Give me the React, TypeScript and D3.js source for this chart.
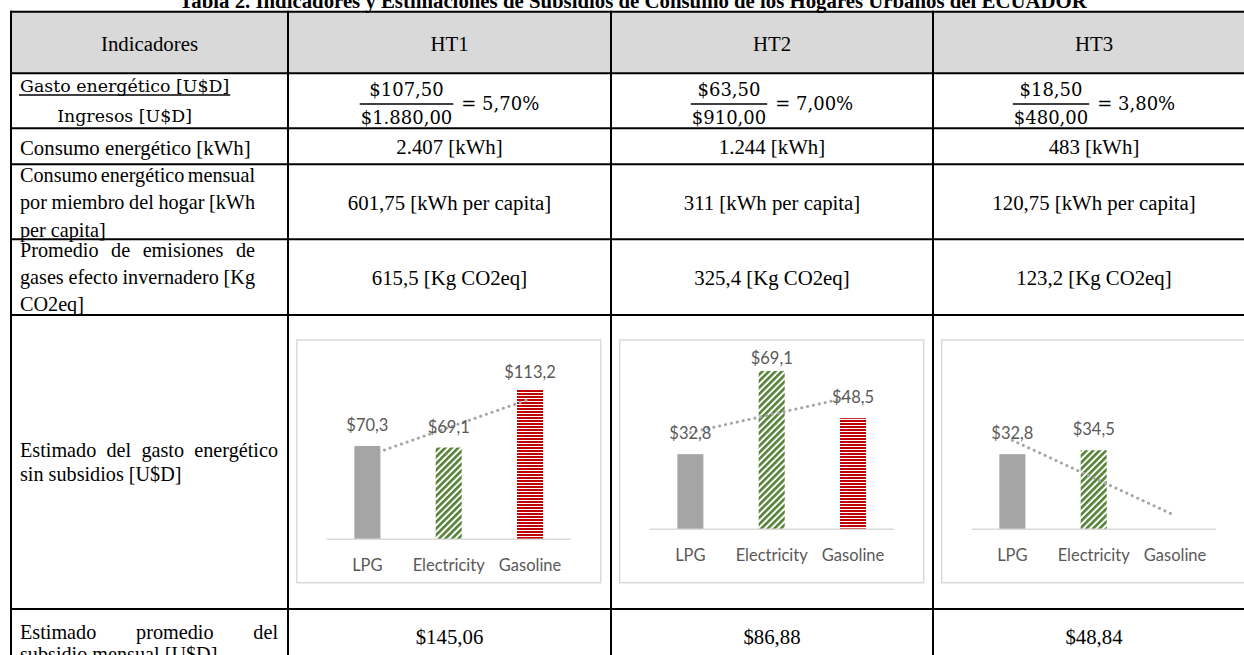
import React, { useEffect, useRef } from "react";
import * as d3 from "d3";

// table content
const title = "Tabla 2. Indicadores y Estimaciones de Subsidios de Consumo de los Hogares Urbanos del ECUADOR";
const households = ["HT1", "HT2", "HT3"];
const fuels = ["LPG", "Electricity", "Gasoline"];
const gastoEnergetico = ["$107,50", "$63,50", "$18,50"];
const ingresos = ["$1.880,00", "$910,00", "$480,00"];
const gastoRatio = ["5,70%", "7,00%", "3,80%"];
const consumo = ["2.407 [kWh]", "1.244 [kWh]", "483 [kWh]"];
const consumoPerCapita = ["601,75 [kWh per capita]", "311 [kWh per capita]", "120,75 [kWh per capita]"];
const emisiones = ["615,5 [Kg CO2eq]", "325,4 [Kg CO2eq]", "123,2 [Kg CO2eq]"];
const subsidio = ["$145,06", "$86,88", "$48,84"];

// mini bar charts (one per household type)
const lpgCost = [70.3, 32.8, 32.8];
const electricityCost = [69.1, 69.1, 34.5];
const gasolineCost = [113.2, 48.5, 0];
const axisMax = [135, 80, 80];

const W = 1244;
const H = 655;
const colX = [11, 288, 611, 933, 1255];
const rowY = [11.7, 73.3, 128.3, 164.3, 239.3, 315, 609, 700];
const SERIF = "'Liberation Serif', 'Times New Roman', serif";
const MATH = "'DejaVu Serif', serif";
const SANS = "Lato, 'Open Sans', sans-serif";
const FS = 20.2;

function txt(g, s, x, y, opts: any = {}) {
  return g
    .append("text")
    .attr("x", x)
    .attr("y", y)
    .attr("font-family", opts.font || SERIF)
    .attr("font-size", opts.size || FS)
    .attr("font-weight", opts.weight || "normal")
    .attr("text-anchor", opts.anchor || "start")
    .attr("fill", opts.fill || "#000")
    .text(s);
}

// justified line: words spread between x0 and x1
function justify(g, s, x0, x1, y) {
  const words = s.split(" ");
  const nodes = words.map((w) => txt(g, w, 0, y));
  const widths = nodes.map((n) => n.node().getComputedTextLength());
  const gap = Math.max(3, (x1 - x0 - d3.sum(widths)) / (words.length - 1));
  let x = x0;
  nodes.forEach((n, i) => {
    n.attr("x", x);
    x += widths[i] + gap;
  });
}

function fraction(g, num, den, x0, yNum, yBar, yDen, eq) {
  const a = txt(g, num, 0, yNum, { font: MATH, size: 18, anchor: "middle" });
  const b = txt(g, den, 0, yDen, { font: MATH, size: 18, anchor: "middle" });
  const fw = Math.max(a.node().getComputedTextLength(), b.node().getComputedTextLength()) + 2;
  const e = txt(g, eq, 0, yBar + 6, { font: MATH, size: 18 });
  const ew = e.node().getComputedTextLength();
  const start = x0 - (fw + 8 + ew) / 2;
  e.attr("x", start + fw + 8);
  a.attr("x", start + fw / 2);
  b.attr("x", start + fw / 2);
  g.append("line")
    .attr("x1", start)
    .attr("x2", start + fw)
    .attr("y1", yBar)
    .attr("y2", yBar)
    .attr("stroke", "#000")
    .attr("stroke-width", 1.3);
}

function drawChart(g, i) {
  const boxX = colX[i + 1] + 8.7;
  const boxY = 340;
  const values = [lpgCost[i], electricityCost[i], gasolineCost[i]];
  const fills = ["#a5a5a5", "url(#elecPat)", "url(#gasPat)"];
  const baseY = boxY + (i === 0 ? 199.3 : 189.3);
  const topY = boxY + (i === 0 ? 20 : 6);

  g.append("rect")
    .attr("x", boxX)
    .attr("y", boxY)
    .attr("width", 304)
    .attr("height", 242.7)
    .attr("fill", "#fff")
    .attr("stroke", "#d9d9d9")
    .attr("stroke-width", 1.5);

  const x = d3
    .scaleBand()
    .domain(fuels)
    .range([boxX + 30, boxX + 274])
    .paddingInner(0.68)
    .paddingOuter(0.34);
  const y = d3.scaleLinear().domain([0, axisMax[i]]).range([baseY, topY]);

  g.append("g")
    .selectAll("rect")
    .data(values)
    .enter()
    .append("rect")
    .attr("x", (d, j) => x(fuels[j]))
    .attr("y", (d) => y(d))
    .attr("width", x.bandwidth())
    .attr("height", (d) => baseY - y(d))
    .attr("fill", (d, j) => fills[j]);

  g.append("line")
    .attr("x1", boxX + 30)
    .attr("x2", boxX + 274)
    .attr("y1", baseY)
    .attr("y2", baseY)
    .attr("stroke", "#d9d9d9")
    .attr("stroke-width", 1.5);

  fuels.forEach((f) => {
    txt(g, f, x(f) + x.bandwidth() / 2, baseY + 31.7, { font: SANS, size: 16.5, anchor: "middle", fill: "#595959" });
  });

  // linear trendline over the three categories
  const n = values.length;
  const xs = d3.range(1, n + 1);
  const mx = d3.mean(xs);
  const my = d3.mean(values);
  const slope = d3.sum(xs, (v, k) => (v - mx) * (values[k] - my)) / d3.sum(xs, (v) => (v - mx) * (v - mx));
  const trend = (k) => my + slope * (k - mx);
  const line = d3
    .line()
    .x((d) => x(fuels[d - 1]) + x.bandwidth() / 2)
    .y((d) => y(trend(d)));
  g.append("path")
    .attr("d", line([1, n]))
    .attr("fill", "none")
    .attr("stroke", "#a5a5a5")
    .attr("stroke-width", 3)
    .attr("stroke-linecap", "round")
    .attr("stroke-dasharray", "0.1 5.9");

  values.forEach((v, j) => {
    if (!v) return;
    const ly = Math.max(y(v) - 15, topY + 18);
    txt(g, "$" + v.toFixed(1).replace(".", ","), x(fuels[j]) + x.bandwidth() / 2, ly, {
      font: SANS,
      size: 16.5,
      anchor: "middle",
      fill: "#595959",
    });
  });
}

export default function App() {
  const ref = useRef(null);

  useEffect(() => {
    const svg = d3.select(ref.current);
    svg.selectAll("*").remove();

    const defs = svg.append("defs");
    const elec = defs
      .append("pattern")
      .attr("id", "elecPat")
      .attr("patternUnits", "userSpaceOnUse")
      .attr("width", 4.6)
      .attr("height", 4.6)
      .attr("patternTransform", "rotate(45)");
    elec.append("rect").attr("width", 4.6).attr("height", 4.6).attr("fill", "#fff");
    elec.append("rect").attr("width", 2.6).attr("height", 4.6).attr("fill", "#548235");
    const gas = defs
      .append("pattern")
      .attr("id", "gasPat")
      .attr("patternUnits", "userSpaceOnUse")
      .attr("width", 4)
      .attr("height", 3);
    gas.append("rect").attr("width", 4).attr("height", 3).attr("fill", "#fff");
    gas.append("rect").attr("width", 4).attr("height", 2).attr("fill", "#c00000");

    const g = svg.append("g");

    // header background
    g.append("rect")
      .attr("x", colX[0])
      .attr("y", rowY[0])
      .attr("width", colX[4] - colX[0])
      .attr("height", rowY[1] - rowY[0])
      .attr("fill", "#d9d9d9");

    txt(g, title, (colX[0] + colX[4]) / 2, 8, { weight: "bold", anchor: "middle", size: 20.8 });

    // first column
    txt(g, "Indicadores", (colX[0] + colX[1]) / 2, 50.5, { anchor: "middle", size: 20.8 });
    const lf = g.append("g");
    const a = txt(lf, "Gasto energético [U$D]", 0, 91.5, { font: MATH, size: 17.4, anchor: "middle" });
    const b = txt(lf, "Ingresos [U$D]", 0, 122, { font: MATH, size: 17.4, anchor: "middle" });
    const fw = Math.max(a.node().getComputedTextLength(), b.node().getComputedTextLength()) + 2;
    a.attr("x", 19 + fw / 2);
    b.attr("x", 19 + fw / 2);
    lf.append("line").attr("x1", 19).attr("x2", 19 + fw).attr("y1", 95).attr("y2", 95).attr("stroke", "#000").attr("stroke-width", 1.3);

    txt(g, "Consumo energético [kWh]", 20, 154.5, { size: 20.8 });
    justify(g, "Consumo energético mensual", 20, 255, 182);
    justify(g, "por miembro del hogar [kWh", 20, 255, 209.3);
    txt(g, "per capita]", 20, 236.7);
    justify(g, "Promedio de emisiones de", 20, 255, 256.7);
    justify(g, "gases efecto invernadero [Kg", 20, 255, 284.3);
    txt(g, "CO2eq]", 20, 311);
    justify(g, "Estimado del gasto energético", 20, 278, 457);
    txt(g, "sin subsidios [U$D]", 20, 481);
    justify(g, "Estimado promedio del", 20, 278, 639);
    txt(g, "subsidio mensual [U$D]", 20, 661);

    // household columns
    households.forEach((h, i) => {
      const cx = (colX[i + 1] + colX[i + 2]) / 2;
      txt(g, h, cx, 50.5, { anchor: "middle", size: 20.8 });
      fraction(g, gastoEnergetico[i], ingresos[i], cx, 95.5, 104, 124, "= " + gastoRatio[i]);
      txt(g, consumo[i], cx, 154, { anchor: "middle", size: 20.8 });
      txt(g, consumoPerCapita[i], cx, 210, { anchor: "middle", size: 20.8 });
      txt(g, emisiones[i], cx, 284.5, { anchor: "middle", size: 20.8 });
      txt(g, subsidio[i], cx, 644, { anchor: "middle", size: 20.8 });
      drawChart(g, i);
    });

    // grid lines
    rowY.forEach((yy) => {
      g.append("line").attr("x1", colX[0] - 1).attr("x2", colX[4]).attr("y1", yy).attr("y2", yy).attr("stroke", "#000").attr("stroke-width", 2);
    });
    colX.forEach((xx) => {
      g.append("line").attr("x1", xx).attr("x2", xx).attr("y1", rowY[0] - 1).attr("y2", rowY[7]).attr("stroke", "#000").attr("stroke-width", 2);
    });
  }, []);

  return <svg ref={ref} width={W} height={H} style={{ position: "absolute", left: 0, top: 0, background: "#fff" }} />;
}
